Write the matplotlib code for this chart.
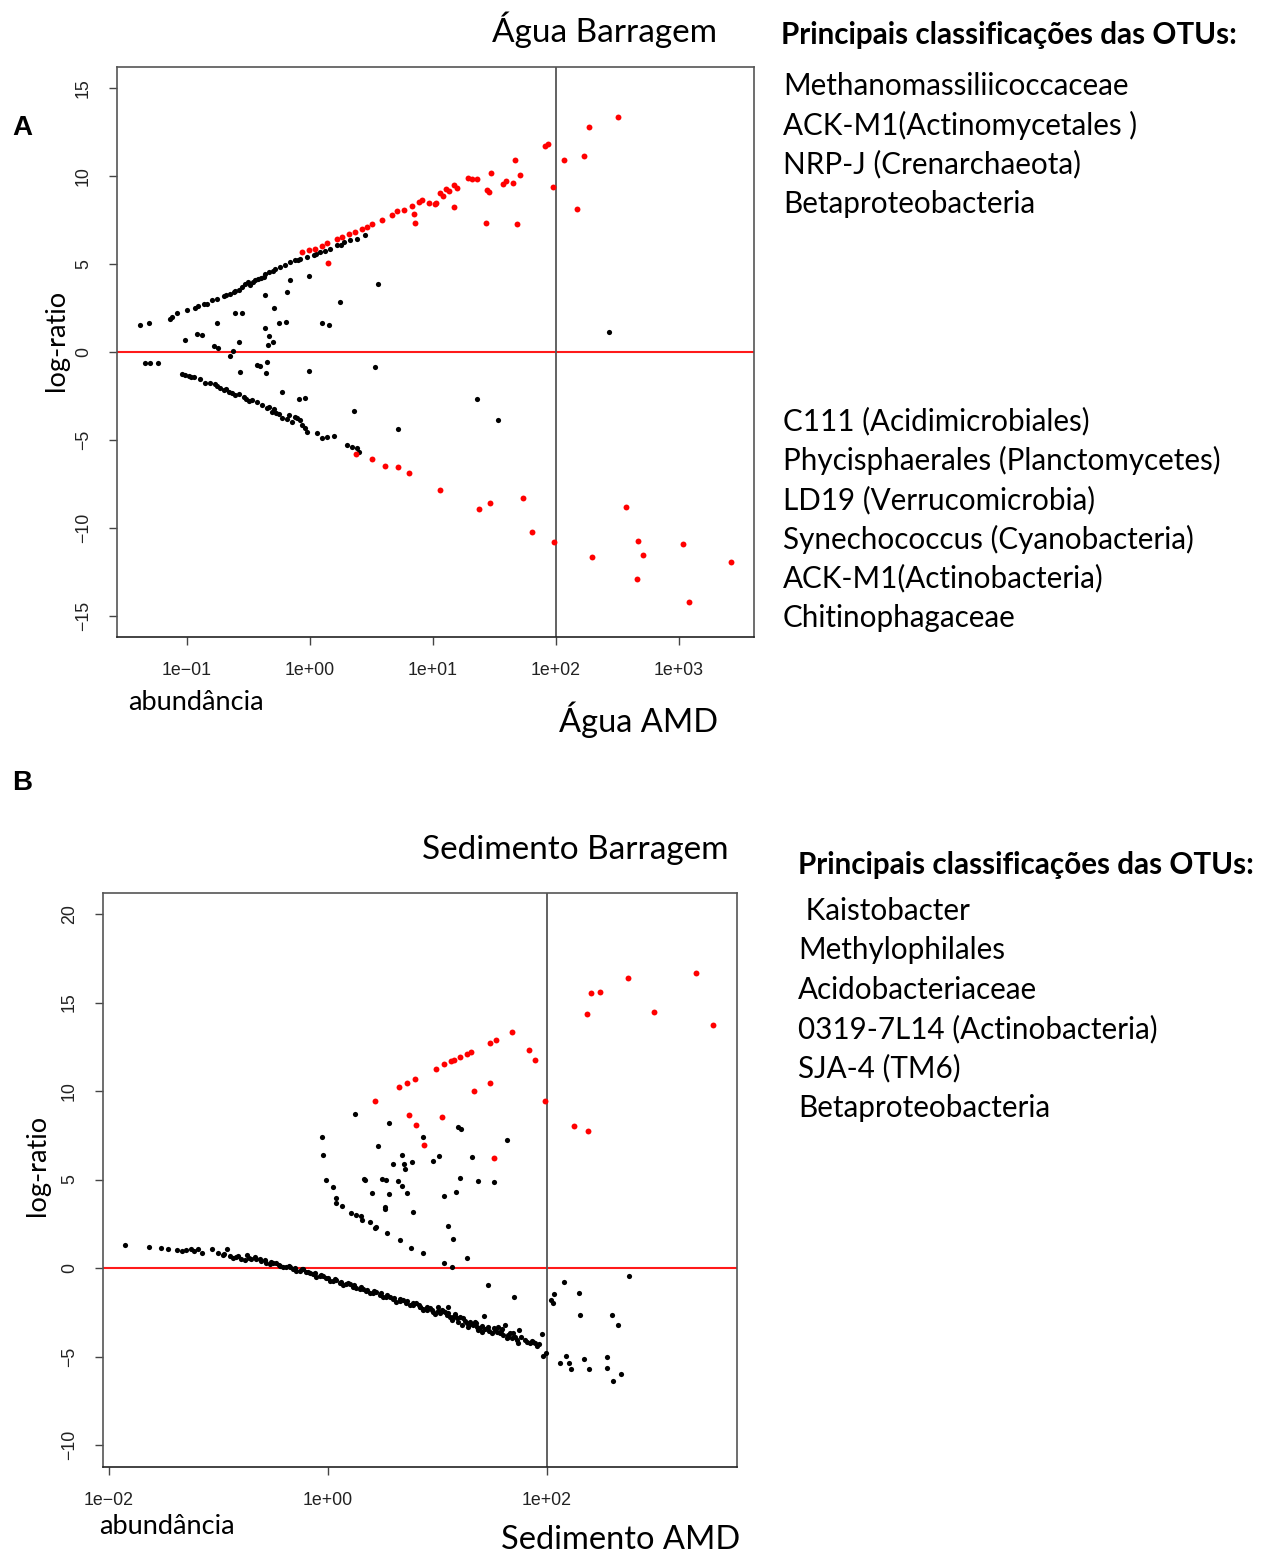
import matplotlib
matplotlib.use('Agg')
import matplotlib.pyplot as plt
import numpy as np

# ---------------- DATA (log10 abundance, log-ratio) ----------------
# Panel A  (Água Barragem vs Água AMD)
a_black_log10abund = [
    -1.385, -1.306, -1.141, -1.122, -1.081, -1.0, -0.932, -0.91, -0.837, -0.797,
    -0.756, -0.702, -0.648, -0.607, -0.553, -0.526, -0.485, -0.444, -0.377, -0.363,
    -0.282, -0.241, -0.2, -0.16, -0.119, -0.078, -0.024, 0.03, 0.084, 0.165,
    0.22, 0.274, 0.328, 0.382, 0.45, -0.58, -0.42, -0.33, -0.5, -0.68, -0.86,
    -0.16, -0.011, 0.553, -0.187, -0.369, 0.241, -0.29, -0.607, -0.553, -0.756,
    -0.255, -0.192, 0.098, 0.152, -0.363, -1.019, -0.919, -0.878, -0.331, -0.58,
    -0.783, -0.748, -0.344, -0.301, -0.626, -0.648, 2.434,
    -1.339, -1.298, -1.238, -0.566, -0.431, -0.404, -0.35, -0.355, -0.011, 0.526,
    -0.228, -0.092, -0.038, 0.355, 0.713, 1.361, 1.532,
    -1.041, -1.013, -0.986, -0.946, -0.891, -0.851, -0.81, -0.756, -0.729, -0.702,
    -0.661, -0.634, -0.607, -0.58, -0.539, -0.498, -0.431, -0.39, -0.35, -0.309,
    -0.29, -0.274, -0.228, -0.187, -0.173, -0.146, -0.106, -0.079, -0.065, -0.038,
    -0.024, 0.057, 0.098, 0.138, 0.193, 0.301, 0.342, 0.382, 0.396,
    -0.62, -0.46, -0.40, -0.30, -0.10, 0.05, 0.12, 0.25, -0.97, -0.77,
    -0.68, -0.52, -0.47, -0.33, -0.25, -0.12,
]
a_black_logratio = [
    1.51, 1.64, 1.89, 1.99, 2.21, 2.36, 2.52, 2.61, 2.74, 2.93,
    3.03, 3.16, 3.31, 3.46, 3.69, 3.88, 3.78, 4.07, 4.26, 4.45,
    4.73, 4.83, 4.92, 5.11, 5.21, 5.30, 5.40, 5.49, 5.68, 5.87,
    6.06, 6.25, 6.34, 6.44, 6.63, 3.55, 4.15, 4.55, 3.95, 3.22, 2.70,
    4.07, 4.30, 3.84, 3.41, 3.22, 2.84, 2.52, 2.21, 2.23, 1.64,
    1.66, 1.70, 1.64, 1.51, 1.38, 0.70, 1.00, 0.98, 0.89, 0.57,
    0.32, 0.24, 0.41, 0.55, 0.05, -0.21, 1.13,
    -0.61, -0.61, -0.61, -1.12, -0.74, -0.80, -0.59, -1.19, -1.10, -0.87,
    -2.29, -2.67, -2.60, -3.33, -4.39, -2.67, -3.86,
    -1.27, -1.31, -1.36, -1.44, -1.55, -1.74, -1.78, -1.93, -2.06, -2.16,
    -2.25, -2.35, -2.44, -2.41, -2.54, -2.77, -2.82, -3.01, -3.20, -3.39,
    -3.26, -3.48, -3.77, -3.81, -3.58, -3.96, -3.77, -3.86, -4.15, -4.34,
    -4.53, -4.62, -4.90, -4.81, -4.75, -5.28, -5.42, -5.47, -5.66,
    3.40, 3.98, 4.20, 4.60, 5.20, 5.55, 5.75, 6.10, -1.40, -1.82,
    -2.10, -2.65, -2.72, -3.10, -3.50, -3.70,
]
a_red_log10abund = [
    -0.065, -0.011, 0.043, 0.098, 0.138, 0.22, 0.26, 0.315, 0.369, 0.423,
    0.464, 0.504, 0.585, 0.667, 0.707, 0.762, 0.829, 0.843, 0.857, 0.884,
    0.911, 0.965, 1.019, 0.144,
    1.025, 1.057, 1.084, 1.106, 1.13, 1.171, 1.198, 1.168, 1.288, 1.315,
    1.355, 1.437, 1.458, 1.431, 1.475, 1.567, 1.594, 1.654, 1.67, 1.708,
    1.681, 1.911, 1.938, 1.973, 2.068, 2.231, 2.168, 2.269, 2.507,
    0.377, 0.504, 0.613, 0.716, 0.808,
    1.057, 1.374, 1.464, 1.735, 1.808, 1.984, 2.29, 2.569, 2.667, 2.705,
    2.656, 3.03, 3.079, 3.42,
]
a_red_logratio = [
    5.68, 5.77, 5.87, 6.00, 6.19, 6.44, 6.53, 6.72, 6.82, 7.00,
    7.10, 7.29, 7.48, 7.76, 8.01, 8.08, 8.27, 7.86, 7.33, 8.52,
    8.65, 8.46, 8.43, 5.05,
    8.46, 9.03, 8.84, 9.24, 9.13, 9.47, 9.32, 8.22, 9.88, 9.81,
    9.81, 9.18, 9.11, 7.35, 10.15, 9.54, 9.71, 9.62, 10.89, 10.05,
    7.27, 11.72, 11.80, 9.37, 10.93, 11.11, 8.14, 12.78, 13.37,
    -5.81, -6.08, -6.46, -6.51, -6.86,
    -7.82, -8.94, -8.60, -8.30, -10.25, -10.78, -11.67, -8.79, -10.72, -11.55,
    -12.90, -10.89, -14.20, -11.95,
]

# Panel B  (Sedimento Barragem vs Sedimento AMD)
b_black_log10abund = [
    -1.857, -1.635, -1.528, -1.461, -1.379, -1.334, -1.294, -1.248, -1.227, -1.187,
    -1.148, -1.06, -1.005, -0.959, -0.923,
    -0.898, -0.837, -0.792, -0.74, -0.7, -0.655, -0.609, -0.563, -0.502, -0.442,
    -0.381, -0.32, -0.259, -0.198, -0.137, -0.076, -0.016, 0.045, 0.106, 0.167,
    0.228, 0.289, 0.35, 0.411, 0.472, 0.533, 0.593, 0.654, 0.715, 0.776, 0.837,
    -0.868, -0.761, -0.67, -0.579, -0.533, -0.472, -0.411, -0.35, -0.29, -0.229,
    -0.168, -0.107, -0.046, 0.015, 0.076, 0.137, 0.198, 0.258, 0.319, 0.38,
    0.441, 0.502, 0.563, 0.624, 0.685, 0.746, 0.806, 0.867,
    0.84, 0.901, 0.962, 1.007, 1.023, 1.068, 1.099, 1.114, 1.144, 1.175,
    1.205, 1.221, 1.266, 1.297, 1.327, 1.358, 1.388, 1.403, 1.424, 1.434,
    1.494, 1.525, 1.555, 1.571, 1.601, 1.616, 1.631, 1.662, 1.692, 1.723,
    1.744, 1.738, 1.845, 1.875, 1.905, 1.957, 1.96, 1.991,
    0.87, 0.931, 0.977, 1.038, 1.084, 1.129, 1.16, 1.19, 1.251, 1.281,
    1.342, 1.373, 1.464, 1.54, 1.586, 1.647, 1.708, 1.814, 1.89,
    -0.95, -0.82, -0.72, -0.62, -0.52, -0.45, -0.36, -0.30, -0.24, -0.18,
    -0.12, -0.06, 0.0, 0.06, 0.12, 0.18, 0.24, 0.30, 0.36, 0.42,
    0.48, 0.54, 0.60, 0.66, 0.72, 0.78, 0.83, 0.90, 0.95, 1.00,
    1.05, 1.10, 1.16, 1.23, 1.30, 1.35, 1.41, 1.47, 1.52, 1.58,
    1.64, 1.68, 1.76, 1.80, 1.86, 1.93,
    0.249, 0.557, -0.052, -0.046, 0.456, 0.676, 0.593, 0.694, 0.7, 0.767,
    -0.022, 0.329, 0.341, 0.496, 0.526, 0.639,
    0.045, 0.076, 0.076, 0.128, 0.213, 0.259, 0.304, 0.313, 0.38, 0.426,
    0.435, 0.539, 0.654, 0.758, 0.867, 0.405, 0.557, 0.721, 0.517, 0.523,
    0.776, 0.679,
    0.87, 1.19, 1.211, 1.638, 1.017, 0.962, 1.312,
    1.205, 1.373, 1.516, 1.059, 1.169, 1.096, 1.138, 1.266, 1.059, 1.135,
    1.458, 1.701, 2.158, 2.064, 2.036, 2.058, 2.289, 2.301, 2.596, 2.645,
    2.752, 2.17, 2.119, 2.201, 2.219, 2.341, 2.386, 2.548, 2.545, 2.679, 2.603,
]
b_black_logratio = [
    1.30, 1.17, 1.15, 1.06, 1.02, 0.96, 1.02, 1.07, 0.96, 1.06,
    0.87, 1.07, 0.83, 0.74, 1.07,
    0.68, 0.60, 0.53, 0.74, 0.49, 0.49, 0.41, 0.30, 0.26, 0.11,
    0.04, -0.06, -0.15, -0.21, -0.34, -0.45, -0.58, -0.72, -0.83, -0.92,
    -1.05, -1.17, -1.28, -1.39, -1.52, -1.62, -1.77, -1.85, -1.96, -2.09, -2.18,
    0.56, 0.45, 0.60, 0.45, 0.23, 0.26, 0.04, 0.07, -0.15, -0.08,
    -0.30, -0.49, -0.45, -0.72, -0.68, -0.96, -0.90, -1.15, -1.17, -1.43,
    -1.36, -1.66, -1.62, -1.90, -1.81, -2.09, -1.99, -2.35,
    -2.18, -2.37, -2.47, -2.18, -2.56, -2.47, -2.22, -2.75, -2.75, -2.84,
    -2.75, -3.22, -3.13, -3.03, -3.22, -3.31, -3.41, -3.60, -2.69, -3.46,
    -3.69, -3.50, -3.31, -3.69, -3.79, -3.22, -3.97, -3.69, -3.65, -4.07,
    -3.50, -4.26, -4.22, -4.16, -4.39, -3.75, -4.97, -4.78,
    -2.33, -2.28, -2.60, -2.37, -2.66, -2.94, -2.60, -3.03, -2.98, -3.31,
    -3.03, -3.50, -3.35, -3.60, -3.46, -3.88, -3.88, -4.16, -4.26,
    0.80, 0.66, 0.58, 0.52, 0.36, 0.20, 0.12, -0.02, -0.04, -0.20,
    -0.28, -0.38, -0.55, -0.62, -0.76, -0.85, -0.98, -1.08, -1.22, -1.30,
    -1.42, -1.52, -1.68, -1.75, -1.88, -1.98, -2.10, -2.22, -2.35, -2.42,
    -2.40, -2.55, -2.70, -2.85, -3.15, -3.12, -3.30, -3.55, -3.40, -3.55,
    -3.80, -3.95, -3.90, -4.05, -4.10, -4.30,
    8.72, 8.20, 7.40, 6.37, 6.92, 6.39, 5.88, 5.88, 5.60, 5.97,
    4.96, 5.05, 5.00, 5.05, 5.00, 4.94,
    4.56, 3.94, 3.65, 3.50, 3.13, 2.99, 2.94, 2.71, 2.62, 2.24,
    2.34, 1.96, 1.58, 1.11, 0.83, 4.22, 4.18, 4.22, 3.47, 3.32,
    3.15, 4.63,
    7.39, 7.97, 7.88, 7.25, 6.31, 6.03, 6.28,
    5.07, 4.92, 4.88, 4.07, 4.28, 2.37, 1.62, 0.58, 0.26, 0.04,
    -0.96, -1.66, -0.77, -1.47, -1.81, -2.00, -1.41, -2.66, -2.66, -3.22,
    -0.45, -4.95, -5.35, -5.39, -5.71, -5.16, -5.71, -5.05, -5.67, -5.99, -6.40,
]
b_red_log10abund = [
    0.426, 0.648, 0.724, 0.791, 0.736, 0.806,
    0.986, 1.062, 1.123, 1.154, 1.205, 1.272, 1.306, 1.479, 1.534, 1.683,
    1.835, 1.893, 1.982, 1.333, 1.479, 1.038, 0.88, 1.516,
    2.362, 2.402, 2.484, 2.737, 3.361, 2.977, 3.519, 2.246, 2.371,
]
b_red_logratio = [
    9.42, 10.21, 10.46, 10.68, 8.67, 8.10,
    11.27, 11.51, 11.68, 11.77, 11.94, 12.11, 12.23, 12.73, 12.88, 13.32,
    12.30, 11.74, 9.44, 10.02, 10.46, 8.52, 6.97, 6.20,
    14.35, 15.52, 15.60, 16.39, 16.67, 14.47, 13.71, 8.03, 7.76,
]

a_xticks = [1e-1, 1e0, 1e1, 1e2, 1e3]
a_xticklabels = ['1e\u221201', '1e+00', '1e+01', '1e+02', '1e+03']
a_yticks = [-15, -10, -5, 0, 5, 10, 15]
b_xticks = [1e-2, 1e0, 1e2]
b_xticklabels = ['1e\u221202', '1e+00', '1e+02']
b_yticks = [-10, -5, 0, 5, 10, 15, 20]

a_taxa_up = ['Methanomassiliicoccaceae', 'ACK-M1(Actinomycetales )',
             'NRP-J (Crenarchaeota)', 'Betaproteobacteria']
a_taxa_down = ['C111 (Acidimicrobiales)', 'Phycisphaerales (Planctomycetes)',
               'LD19 (Verrucomicrobia)', 'Synechococcus (Cyanobacteria)',
               'ACK-M1(Actinobacteria)', 'Chitinophagaceae']
b_taxa = [' Kaistobacter', 'Methylophilales', 'Acidobacteriaceae',
          '0319-7L14 (Actinobacteria)', 'SJA-4 (TM6)', 'Betaproteobacteria']

# ---------------- FIGURE ----------------
W, H = 1272, 1555
fig = plt.figure(figsize=(W / 100, H / 100), dpi=100)
fig.patch.set_facecolor('white')

def fx(p):
    return p / W

def fy(p):
    return 1 - p / H

TXT = 'Lato'
TICKF = 'Liberation Sans'


def make_axes(l, t, r, b):
    return fig.add_axes([fx(l), fy(b), (r - l) / W, (b - t) / H])


def style(ax, xlim, ylim, xt, xtl, yt):
    ax.set_xscale('log')
    ax.set_xlim(*xlim)
    ax.set_ylim(*ylim)
    ax.set_xticks(xt)
    ax.set_xticklabels(xtl)
    ax.xaxis.set_minor_locator(matplotlib.ticker.NullLocator())
    ax.set_yticks(yt)
    ax.set_yticklabels([str(v) if v >= 0 else '\u2212' + str(-v) for v in yt],
                       rotation=90, va='center')
    ax.tick_params(axis='both', direction='out', length=6, width=1,
                   color='#444444', labelcolor='#222222', labelsize=12.8, pad=12)
    for lab in ax.get_xticklabels() + ax.get_yticklabels():
        lab.set_fontfamily(TICKF)
    for s in ax.spines.values():
        s.set_color('#555555')
        s.set_linewidth(1.2)
    ax.spines['bottom'].set_color('#222222')


# Panel A
axA = make_axes(117, 67, 754, 637)
style(axA, (10 ** -1.569, 10 ** 3.61), (-16.19, 16.19), a_xticks, a_xticklabels, a_yticks)
axA.axhline(0, color='#ff1a1a', lw=1.5, zorder=1)
axA.axvline(100, color='#555555', lw=1.3, zorder=1)
axA.scatter(10 ** np.array(a_black_log10abund), a_black_logratio, s=14, c='black',
            linewidths=0, zorder=3)
axA.scatter(10 ** np.array(a_red_log10abund), a_red_logratio, s=18, c='#ff0000',
            linewidths=0, zorder=3)

# Panel B
axB = make_axes(103, 893, 737, 1467)
style(axB, (10 ** -2.055, 10 ** 3.735), (-11.24, 21.19), b_xticks, b_xticklabels, b_yticks)
axB.axhline(0, color='#ff1a1a', lw=1.5, zorder=1)
axB.axvline(100, color='#555555', lw=1.3, zorder=1)
axB.scatter(10 ** np.array(b_black_log10abund), b_black_logratio, s=14, c='black',
            linewidths=0, zorder=3)
axB.scatter(10 ** np.array(b_red_log10abund), b_red_logratio, s=18, c='#ff0000',
            linewidths=0, zorder=3)

# ---------------- TEXTS ----------------
def t(x, y, s, size, ha='left', weight='normal', rot=0, family=TXT):
    fig.text(fx(x), fy(y), s, fontsize=size, ha=ha, va='center', fontweight=weight,
             rotation=rot, family=family, color='black')

t(22, 128, 'A', 20, ha='center', weight='bold', family='Liberation Sans')
t(22, 783, 'B', 20, ha='center', weight='bold', family='Liberation Sans')

t(604, 30, 'Água Barragem', 24, ha='center')
t(639, 720, 'Água AMD', 23.5, ha='center')
t(196, 702, 'abundância', 19.5, ha='center')
t(57, 340, 'log-ratio', 19.5, ha='center', rot=90)

t(575, 850, 'Sedimento Barragem', 24, ha='center')
t(621, 1540, 'Sedimento AMD', 23.5, ha='center')
t(167, 1527, 'abundância', 19.5, ha='center')
t(37, 1165, 'log-ratio', 19.5, ha='center', rot=90)

t(781, 35, 'Principais classificações das OTUs:', 21.3, weight='bold')
for i, s in enumerate(a_taxa_up):
    t(783, 86 + i * 39.3, s, 21.3)
for i, s in enumerate(a_taxa_down):
    t(783, 421 + i * 39.4, s, 21.3)

t(798, 865, 'Principais classificações das OTUs:', 21.3, weight='bold')
for i, s in enumerate(b_taxa):
    t(798, 911 + i * 39.4, s, 21.3)

fig.savefig('out.png', dpi=100, facecolor='white')
